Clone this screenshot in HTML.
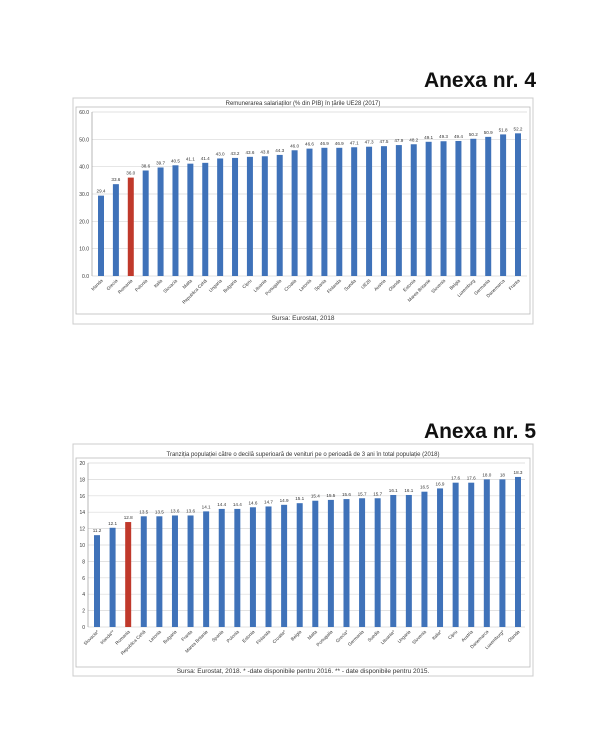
<!DOCTYPE html>
<html><head><meta charset="utf-8">
<style>
html,body{margin:0;padding:0;background:#fff;}
svg{display:block;font-family:"Liberation Sans",sans-serif;}
</style></head>
<body>
<svg id="s" width="610" height="743" viewBox="0 0 610 743" xmlns="http://www.w3.org/2000/svg">
<rect width="610" height="743" fill="#fff"/>
<text x="536" y="87" text-anchor="end" font-size="21" font-weight="bold" fill="#111">Anexa nr. 4</text>
<text x="536" y="438" text-anchor="end" font-size="21" font-weight="bold" fill="#111">Anexa nr. 5</text>
<rect x="73" y="98" width="460" height="226" fill="none" stroke="#ccc"/>
<rect x="73" y="444" width="460" height="232" fill="none" stroke="#ccc"/>
<text x="303" y="105" text-anchor="middle" font-size="6" fill="#333">Remunerarea salariaților (% din PIB) în țările UE28 (2017)</text>
<text x="303" y="456" text-anchor="middle" font-size="6" fill="#333">Tranziția populației către o decilă superioară de venituri pe o perioadă de 3 ani în total populație (2018)</text>
<rect x="76" y="107" width="454" height="207" fill="none" stroke="#bbb" stroke-width="0.8"/>
<rect x="76" y="458" width="454" height="209" fill="none" stroke="#bbb" stroke-width="0.8"/>
<text x="303" y="320" text-anchor="middle" font-size="6.5" fill="#333">Sursa: Eurostat, 2018</text>
<text x="303" y="673" text-anchor="middle" font-size="6.5" fill="#333">Sursa: Eurostat, 2018. * -date disponibile pentru 2016. ** - date disponibile pentru 2015.</text>
<g id="g1"></g><g id="g2"></g>
</svg>
<script>
var NS="http://www.w3.org/2000/svg";
function el(p,t,a,txt){var e=document.createElementNS(NS,t);for(var k in a)e.setAttribute(k,a[k]);if(txt!==undefined)e.textContent=txt;p.appendChild(e);return e;}
function chart(g,o){
  var h=o.y0-o.ytop;
  for(var i=0;i<=o.n;i++){var v=o.max*i/o.n;var y=o.y0-h*i/o.n;
    el(g,'line',{x1:o.xl,x2:o.xr,y1:y,y2:y,stroke:'#d8d8d8','stroke-width':0.7});
    el(g,'text',{x:o.xl-3,y:y+2,'text-anchor':'end','font-size':5,fill:'#333'},o.fmt(v));}
  el(g,'line',{x1:o.xl,x2:o.xl,y1:o.ytop,y2:o.y0,stroke:'#999','stroke-width':0.7});
  var N=o.vals.length,sp=(o.xlast-o.xfirst)/(N-1);
  for(var i=0;i<N;i++){var cx=o.xfirst+sp*i,v=o.vals[i],bh=v/o.max*h;
    el(g,'rect',{x:cx-3,y:o.y0-bh,width:6,height:bh,fill:i==2?'#c0392b':'#3f72b9'});
    el(g,'text',{x:cx,y:o.y0-bh-3,'text-anchor':'middle','font-size':4.6,fill:'#333'},o.lab[i]);
    el(g,'text',{x:cx+2,y:o.y0+5,'text-anchor':'end','font-size':4.6,fill:'#333',transform:'rotate(-45 '+(cx+2)+' '+(o.y0+5)+')'},o.names[i]);}
}
chart(document.getElementById('g1'),{xl:92,xr:527,ytop:112,y0:276,max:60,n:6,fmt:function(v){return v.toFixed(1)},
 xfirst:101,xlast:518,
 vals:[29.4,33.6,36.0,38.6,39.7,40.5,41.1,41.4,43.0,43.2,43.6,43.8,44.3,46.0,46.6,46.9,46.9,47.1,47.3,47.5,47.9,48.2,49.1,49.3,49.4,50.2,50.9,51.8,52.2],
 lab:["29.4","33.6","36.0","38.6","39.7","40.5","41.1","41.4","43.0","43.2","43.6","43.8","44.3","46.0","46.6","46.9","46.9","47.1","47.3","47.5","47.9","48.2","49.1","49.3","49.4","50.2","50.9","51.8","52.2"],
 names:["Irlanda","Grecia","Romania","Polonia","Italia","Slovacia","Malta","Republica Cehă","Ungaria","Bulgaria","Cipru","Lituania","Portugalia","Croatia","Letonia","Spania","Finlanda","Suedia","UE28","Austria","Olanda","Estonia","Marea Britanie","Slovenia","Belgia","Luxemburg","Germania","Danemarca","Franta"]});
chart(document.getElementById('g2'),{xl:88,xr:525,ytop:463,y0:627,max:20,n:10,fmt:function(v){return String(Math.round(v))},
 xfirst:97,xlast:518,
 vals:[11.2,12.1,12.8,13.5,13.5,13.6,13.6,14.1,14.4,14.4,14.6,14.7,14.9,15.1,15.4,15.5,15.6,15.7,15.7,16.1,16.1,16.5,16.9,17.6,17.6,18.0,18,18.3],
 lab:["11.2","12.1","12.8","13.5","13.5","13.6","13.6","14.1","14.4","14.4","14.6","14.7","14.9","15.1","15.4","15.5","15.6","15.7","15.7","16.1","16.1","16.5","16.9","17.6","17.6","18.0","18","18.3"],
 names:["Slovacia*","Irlanda**","Romania","Republica Cehă","Letonia","Bulgaria","Franta","Marea Britanie","Spania","Polonia","Estonia","Finlanda","Croatia*","Belgia","Malta","Portugalia","Grecia*","Germania","Suedia","Lituania*","Ungaria","Slovenia","Italia*","Cipru","Austria","Danemarca","Luxemburg*","Olanda"]});
</script>
</body></html>
